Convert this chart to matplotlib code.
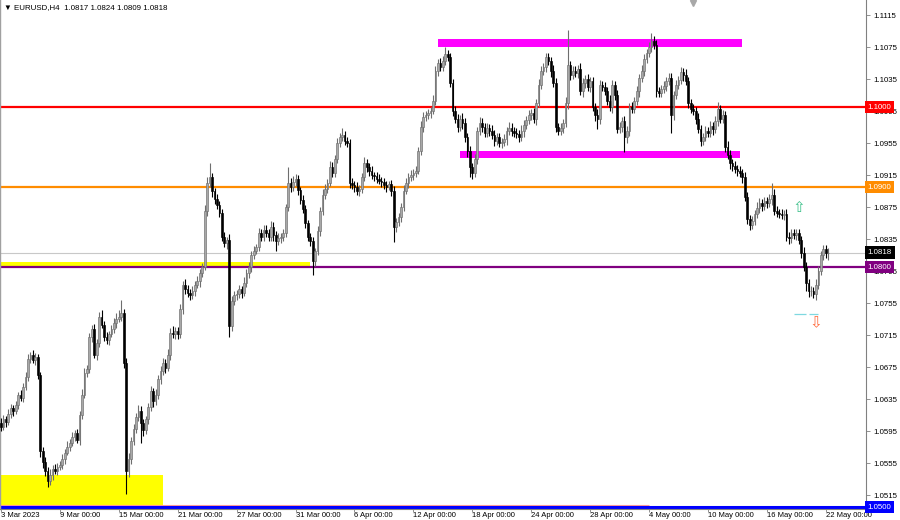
import matplotlib
matplotlib.use("Agg")
import matplotlib.pyplot as plt
import matplotlib.transforms as mtransforms
from matplotlib.patches import Rectangle

plt.rcParams["font.family"] = ["Liberation Sans", "DejaVu Sans"]

# EURUSD H4, 3 Mar 2023 .. 22 May 2023, 6 bars a day (closes)
first_open = 1.0605
close = [
    1.0600, 1.0610, 1.0606, 1.0616, 1.0624, 1.0620,   # 3 Mar
    1.0628, 1.0640, 1.0636, 1.0650, 1.0662, 1.0685,   # 6 Mar
    1.0690, 1.0684, 1.0688, 1.0665, 1.0570, 1.0556,
    1.0545, 1.0533, 1.0540, 1.0548, 1.0545, 1.0550,
    1.0552, 1.0560, 1.0568, 1.0575, 1.0580, 1.0588,   # 9 Mar
    1.0592, 1.0584, 1.0615, 1.0640, 1.0668, 1.0672,
    1.0712, 1.0722, 1.0690, 1.0705, 1.0738, 1.0728,
    1.0713, 1.0709, 1.0716, 1.0722, 1.0730, 1.0735,
    1.0738, 1.0742, 1.0680, 1.0545, 1.0560, 1.0582,   # 15 Mar
    1.0598, 1.0612, 1.0620, 1.0605, 1.0596, 1.0610,
    1.0625, 1.0645, 1.0632, 1.0640, 1.0660, 1.0670,
    1.0680, 1.0674, 1.0690, 1.0718, 1.0716, 1.0720,
    1.0716, 1.0748, 1.0778, 1.0772, 1.0768, 1.0765,   # 21 Mar
    1.0770, 1.0778, 1.0782, 1.0792, 1.0800, 1.0870,
    1.0905, 1.0912, 1.0895, 1.0885, 1.0878, 1.0868,
    1.0838, 1.0830, 1.0834, 1.0726, 1.0758, 1.0765,
    1.0766, 1.0772, 1.0768, 1.0780, 1.0792, 1.0800,   # 27 Mar
    1.0815, 1.0820, 1.0825, 1.0842, 1.0838, 1.0846,
    1.0843, 1.0838, 1.0850, 1.0840, 1.0832, 1.0836,
    1.0838, 1.0842, 1.0875, 1.0905, 1.0900, 1.0906,
    1.0910, 1.0896, 1.0884, 1.0872, 1.0855, 1.0838,   # 31 Mar
    1.0832, 1.0808, 1.0820, 1.0845, 1.0870, 1.0890,
    1.0898, 1.0905, 1.0925, 1.0918, 1.0935, 1.0955,
    1.0962, 1.0965, 1.0958, 1.0955, 1.0905, 1.0902,
    1.0900, 1.0895, 1.0898, 1.0912, 1.0930, 1.0925,   # 6 Apr
    1.0920, 1.0915, 1.0914, 1.0910, 1.0908, 1.0906,
    1.0902, 1.0900, 1.0904, 1.0895, 1.0850, 1.0856,
    1.0862, 1.0875, 1.0895, 1.0905, 1.0912, 1.0915,
    1.0918, 1.0920, 1.0945, 1.0975, 1.0988, 1.0990,   # 12 Apr
    1.0992, 1.0995, 1.1008, 1.1045, 1.1055, 1.1050,
    1.1058, 1.1066, 1.1062, 1.1030, 1.0995, 1.0985,
    1.0975, 1.0985, 1.0980, 1.0962, 1.0945, 1.0925,
    1.0918, 1.0935, 1.0970, 1.0980, 1.0975, 1.0968,   # 18 Apr
    1.0974, 1.0970, 1.0965, 1.0958, 1.0962, 1.0955,
    1.0956, 1.0960, 1.0970, 1.0974, 1.0970, 1.0968,
    1.0966, 1.0962, 1.0970, 1.0978, 1.0984, 1.0990,
    1.0993, 1.0985, 1.1005, 1.1028, 1.1045, 1.1050,   # 24 Apr
    1.1062, 1.1058, 1.1045, 1.1030, 1.0975, 1.0970,
    1.0974, 1.0980, 1.1005, 1.1052, 1.1040, 1.1045,
    1.1042, 1.1048, 1.1020, 1.1030, 1.1035, 1.1025,
    1.1032, 1.1000, 1.0990, 1.0985, 1.1028, 1.1025,   # 28 Apr
    1.1020, 1.1008, 1.1000, 1.1028, 1.1015, 1.0972,
    1.0975, 1.0982, 1.0962, 1.0970, 1.1000, 1.0998,
    1.1008, 1.1020, 1.1036, 1.1045, 1.1060, 1.1068,
    1.1075, 1.1082, 1.1078, 1.1020, 1.1018, 1.1022,   # 4 May
    1.1026, 1.1032, 1.1036, 1.0990, 1.1015, 1.1028,
    1.1034, 1.1044, 1.1040, 1.1032, 1.1005, 1.0998,
    1.0995, 1.0985, 1.0972, 1.0958, 1.0962, 1.0970,
    1.0968, 1.0976, 1.0972, 1.0982, 1.0998, 1.0985,   # 10 May
    1.0990, 1.0950, 1.0940, 1.0930, 1.0926, 1.0922,
    1.0920, 1.0917, 1.0912, 1.0888, 1.0860, 1.0852,
    1.0858, 1.0866, 1.0874, 1.0880, 1.0876, 1.0882,
    1.0880, 1.0885, 1.0890, 1.0870, 1.0868, 1.0866,   # 16 May
    1.0865, 1.0866, 1.0838, 1.0836, 1.0842, 1.0840,
    1.0842, 1.0834, 1.0818, 1.0800, 1.0780, 1.0770,
    1.0770, 1.0766, 1.0778, 1.0795, 1.0815, 1.0822,
    1.0817, 1.0818,                                   # 22 May
]
# wick lengths beyond the body, in pips
wick_up = [
    6, 5, 4, 7, 5, 4,  5, 4, 6, 5, 7, 6,  4, 6, 5, 3, 4, 5,  6, 5, 7, 4, 6, 5,
    5, 6, 4, 7, 5, 6,  4, 6, 5, 7, 6, 5,  6, 5, 7, 5, 6, 8,  5, 6, 4, 5, 6, 7,
    8, 17, 5, 6, 7, 5, 6, 5, 7, 6, 5, 4,  5, 6, 4, 7, 5, 6,  6, 5, 7, 6, 8, 5,
    5, 6, 5, 7, 6, 5,  6, 5, 7, 6, 5, 8,  8, 18, 5, 4, 6, 5, 5, 6, 4, 7, 6, 5,
    5, 6, 4, 7, 5, 6,  5, 6, 4, 7, 5, 6,  6, 5, 7, 6, 5, 6,  5, 6, 4, 20, 6, 8,
    6, 5, 4, 6, 5, 4,  5, 6, 4, 6, 5, 7,  6, 5, 7, 6, 5, 6,  6, 9, 5, 4, 5, 6,
    5, 6, 4, 6, 7, 5,  5, 6, 4, 5, 6, 5,  5, 6, 4, 5, 6, 5,  6, 5, 7, 6, 5, 6,
    5, 6, 5, 7, 6, 5,  6, 5, 7, 6, 5, 6,  6, 9, 5, 6, 5, 6,  6, 5, 7, 6, 5, 6,
    5, 6, 5, 7, 6, 5,  6, 5, 7, 6, 5, 6,  5, 6, 5, 7, 6, 5,  6, 5, 7, 6, 5, 6,
    5, 6, 5, 7, 6, 5,  5, 6, 5, 7, 6, 5,  6, 5, 7, 44, 5, 6, 6, 5, 7, 6, 5, 6,
    5, 6, 5, 7, 6, 5,  6, 5, 7, 6, 5, 6,  6, 5, 7, 6, 5, 6,  5, 6, 5, 7, 6, 5,
    6, 10, 7, 6, 5, 6, 6, 5, 7, 6, 5, 6,  5, 6, 5, 7, 6, 5,  6, 5, 7, 6, 5, 6,
    5, 6, 5, 7, 8, 5,  6, 5, 7, 6, 5, 6,  5, 6, 5, 7, 6, 5,  6, 5, 7, 6, 5, 6,
    5, 6, 15, 7, 6, 5, 6, 5, 7, 6, 5, 6,  5, 6, 5, 7, 6, 5,  6, 5, 7, 6, 5, 6,
    5, 6,
]
wick_dn = [
    5, 4, 6, 3, 5, 6,  4, 6, 3, 5, 4, 5,  5, 4, 6, 5, 8, 7,  6, 8, 5, 6, 4, 5,
    4, 5, 6, 3, 5, 4,  5, 4, 6, 5, 4, 6,  5, 6, 4, 6, 5, 4,  6, 5, 7, 4, 5, 6,
    4, 5, 6, 29, 7, 6, 5, 6, 4, 25, 7, 5, 6, 5, 7, 4, 5, 6,  5, 7, 4, 6, 5, 6,
    6, 5, 7, 6, 5, 6,  5, 6, 4, 7, 5, 4,  6, 5, 7, 6, 5, 6,  6, 5, 7, 14, 6, 5,
    6, 5, 7, 4, 5, 6,  6, 5, 4, 5, 6, 5,  5, 6, 5, 7, 12, 5, 6, 5, 4, 5, 6, 5,
    5, 6, 5, 4, 6, 5,  6, 18, 7, 5, 6, 5, 5, 6, 4, 5, 6, 5,  5, 4, 6, 5, 6, 5,
    6, 5, 6, 5, 4, 6,  6, 5, 7, 5, 4, 6,  5, 6, 4, 6, 19, 6, 5, 6, 5, 4, 6, 5,
    6, 5, 4, 5, 6, 5,  5, 6, 4, 5, 6, 5,  5, 6, 4, 5, 6, 5,  6, 5, 7, 6, 8, 12,
    8, 5, 6, 5, 6, 5,  5, 6, 5, 7, 6, 5,  6, 5, 7, 5, 6, 5,  5, 6, 5, 7, 6, 5,
    6, 5, 7, 5, 6, 5,  6, 5, 7, 5, 6, 5,  5, 6, 5, 7, 6, 5,  5, 6, 5, 7, 6, 5,
    6, 5, 7, 12, 6, 5, 5, 6, 5, 7, 6, 5,  5, 6, 18, 7, 6, 5, 6, 5, 7, 5, 6, 5,
    5, 6, 5, 7, 6, 5,  5, 6, 5, 22, 6, 5, 6, 5, 7, 5, 6, 5,  5, 6, 5, 7, 6, 5,
    6, 5, 7, 5, 6, 5,  5, 6, 5, 7, 6, 5,  6, 5, 7, 5, 6, 6,  5, 6, 5, 7, 6, 5,
    6, 5, 7, 5, 6, 5,  5, 6, 5, 7, 6, 5,  6, 5, 7, 5, 10, 8, 6, 5, 7, 6, 5, 6,
    6, 8,
]

date_labels = ["3 Mar 2023", "9 Mar 00:00", "15 Mar 00:00", "21 Mar 00:00", "27 Mar 00:00",
               "31 Mar 00:00", "6 Apr 00:00", "12 Apr 00:00", "18 Apr 00:00", "24 Apr 00:00",
               "28 Apr 00:00", "4 May 00:00", "10 May 00:00", "16 May 00:00", "22 May 00:00"]
date_bars = [0, 24, 48, 72, 96, 120, 144, 168, 192, 216, 240, 264, 288, 312, 336]

price_ticks = [1.1115, 1.1075, 1.1035, 1.0995, 1.0955, 1.0915, 1.0875, 1.0835,
               1.0795, 1.0755, 1.0715, 1.0675, 1.0635, 1.0595, 1.0555, 1.0515]

# horizontal levels and their price tags
levels = [1.1000, 1.0900, 1.0800, 1.0500]
level_colors = ["#ff0000", "#ff8c00", "#800080", "#0000ff"]
bid = 1.0818

# zones: (from bar, to bar, low, high, colour)
zones = [
    (-1, 66, 1.0498, 1.0540, "#ffff00"),
    (-1, 126, 1.0799, 1.0806, "#ffff00"),
    (178, 302, 1.1075, 1.1085, "#ff00ff"),
    (187, 301, 1.0936, 1.0945, "#ff00ff"),
]

# signal marks: up arrow, down arrow, target dashes
up_mark = (325, 1.0875)
down_mark = (332, 1.0731)
dash_level = 1.0741
dash_spans = [(323, 328), (329, 333)]

opens = [first_open] + close[:-1]
highs = [max(o, c) + u / 10000 for o, c, u in zip(opens, close, wick_up)]
lows = [min(o, c) - d / 10000 for o, c, d in zip(opens, close, wick_dn)]

fig = plt.figure(figsize=(9, 5.2), dpi=100)
ax = fig.add_axes([0.0, 11 / 520, 866 / 900, 509 / 520])
ax.set_xlim(-0.4, 352.4)
ax.set_ylim(1.04976, 1.11338)

for x0, x1, lo, hi, col in zones:
    ax.add_patch(Rectangle((x0, lo), x1 - x0, hi - lo, facecolor=col, edgecolor="none", zorder=1))

ax.hlines(1.0503, -1, 264, color="#ff9a9a", lw=0.8, zorder=1.5)
for lv, col in zip(levels, level_colors):
    ax.axhline(lv, color=col, lw=1.6 if lv != 1.05 else 2.2, zorder=1.6)
ax.axhline(bid, color="#c8c8c8", lw=0.8, zorder=1.5)

# candles
for i, (o, h, l, c) in enumerate(zip(opens, highs, lows, close)):
    bull = c >= o
    col = "#6e6e6e" if bull else "black"
    ax.vlines(i, l, h, color=col, lw=0.8, zorder=3)
    ax.bar(i, max(abs(c - o), 0.00004), bottom=min(o, c), width=0.7,
           color="#a8a8a8" if bull else "black", edgecolor=col, linewidth=0.45, zorder=4)

ax.text(*up_mark, "\u21e7", color="#3cc08a", fontsize=11, ha="center", va="center",
        family="DejaVu Sans", zorder=5)
ax.text(*down_mark, "\u21e9", color="#ff6a3c", fontsize=11, ha="center", va="center",
        family="DejaVu Sans", zorder=5)
ax.hlines([dash_level] * len(dash_spans), [s[0] for s in dash_spans], [s[1] for s in dash_spans],
          color="#7fd8e0", lw=0.9, zorder=5)

# axes look (MT4 style)
ax.spines["top"].set_visible(False)
ax.spines["left"].set_color("#a0a0a0")
ax.spines["left"].set_linewidth(1.0)
for s in ["right", "bottom"]:
    ax.spines[s].set_color("#808080")
    ax.spines[s].set_linewidth(0.8)
ax.yaxis.tick_right()
ax.set_yticks(price_ticks)
ax.set_yticklabels([f"{p:.4f}" for p in price_ticks])
ax.set_xticks(date_bars)
ax.set_xticklabels(date_labels, ha="left")
ax.tick_params(axis="y", labelsize=5.7, length=3, width=0.6, color="#808080", pad=2)
ax.tick_params(axis="x", labelsize=5.5, length=2, width=0.6, color="#808080", pad=0.5)

tr = mtransforms.blended_transform_factory(ax.transAxes, ax.transData)
for lv, col in zip(levels + [bid], level_colors + ["black"]):
    ax.text(1.002, lv, f"{lv:.4f}", transform=tr, color="white", fontsize=5.7, va="center",
            ha="left", clip_on=False, zorder=10,
            bbox=dict(boxstyle="square,pad=0.35", facecolor=col, edgecolor="none"))

ax.text(0.005, 0.985, "\u25bc EURUSD,H4  1.0817 1.0824 1.0809 1.0818", transform=ax.transAxes,
        fontsize=5.7, va="center", ha="left")
ax.plot([0.8], [0.994], marker="v", color="#a8a8a8", markersize=4, transform=ax.transAxes,
        clip_on=False)

fig.savefig("out.png", dpi=100)
